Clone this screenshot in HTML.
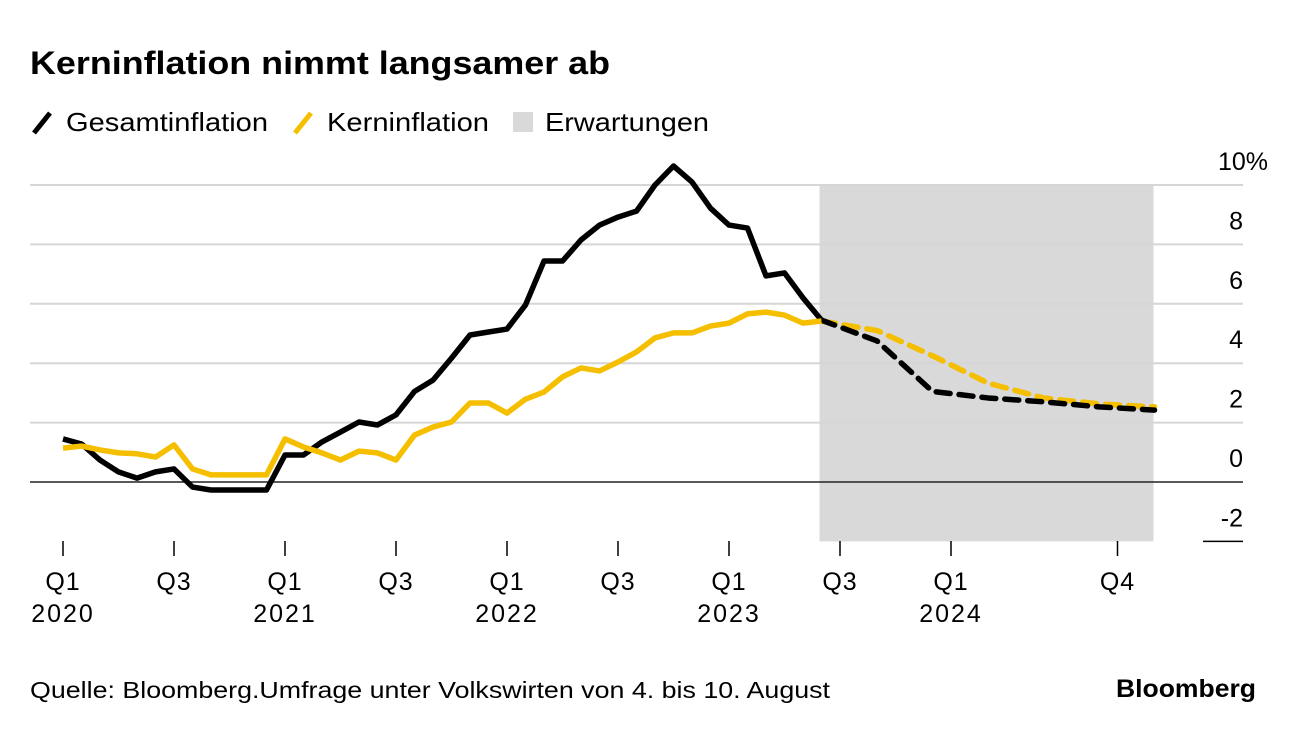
<!DOCTYPE html>
<html><head><meta charset="utf-8"><style>
body{margin:0;background:#fff;font-family:"Liberation Sans",sans-serif;}
svg text{font-family:"Liberation Sans",sans-serif;}
</style></head><body>
<svg id="c" width="1296" height="732" xmlns="http://www.w3.org/2000/svg">
<text x="30" y="74" font-size="32" font-weight="bold" fill="#000" textLength="580" lengthAdjust="spacingAndGlyphs">Kerninflation nimmt langsamer ab</text>
<g>
<line x1="34" y1="133" x2="50" y2="113" stroke="#000" stroke-width="5"/>
<text x="66" y="131" font-size="26" textLength="202" lengthAdjust="spacingAndGlyphs">Gesamtinflation</text>
<line x1="295" y1="133" x2="311" y2="113" stroke="#f5bf00" stroke-width="5"/>
<text x="327" y="131" font-size="26" textLength="162" lengthAdjust="spacingAndGlyphs">Kerninflation</text>
<rect x="513" y="112" width="20" height="20" fill="#d9d9d9"/>
<text x="545" y="131" font-size="26" textLength="164" lengthAdjust="spacingAndGlyphs">Erwartungen</text>
</g>
<g id="plot"></g>
<text x="30" y="698" font-size="23" fill="#000" textLength="800" lengthAdjust="spacingAndGlyphs">Quelle: Bloomberg.Umfrage unter Volkswirten von 4. bis 10. August</text>
<text x="1116" y="697" font-size="25" font-weight="bold" textLength="140" lengthAdjust="spacingAndGlyphs">Bloomberg</text>
</svg>
<script>
const gesamt=[1.45,1.28,0.74,0.34,0.13,0.34,0.44,-0.17,-0.27,-0.27,-0.27,-0.27,0.91,0.91,1.35,1.68,2.02,1.92,2.26,3.05,3.43,4.17,4.95,5.05,5.15,5.96,7.44,7.44,8.15,8.65,8.92,9.12,10.0,10.64,10.1,9.22,8.65,8.55,6.94,7.04,6.2,5.45];
const kern=[1.14,1.21,1.08,0.98,0.95,0.84,1.25,0.44,0.24,0.24,0.24,0.24,1.45,1.18,0.98,0.74,1.04,0.98,0.74,1.58,1.85,2.02,2.66,2.66,2.32,2.79,3.03,3.54,3.84,3.74,4.04,4.38,4.85,5.02,5.02,5.25,5.35,5.66,5.72,5.62,5.35,5.42];
const fcMonths=[41,44,47,50,53,56,59];
const gesamtFc=[5.45,4.75,3.05,2.83,2.7,2.53,2.42];
const kernFc=[5.42,5.1,4.25,3.33,2.83,2.63,2.53];
const yTicks=[-2,0,2,4,6,8,10];
const xTickMonths=[0,6,12,18,24,30,36,42,48,57];
const xTickQ=["Q1","Q3","Q1","Q3","Q1","Q3","Q1","Q3","Q1","Q4"];
const xTickYear=["2020","","2021","","2022","","2023","","2024",""];
const forecastSpan=[41,59];
const X=m=>63+m*18.5, Y=v=>482-v*29.7;
const NS="http://www.w3.org/2000/svg", g=document.getElementById('plot');
function el(t,a){const e=document.createElementNS(NS,t);for(const k in a)e.setAttribute(k,a[k]);g.appendChild(e);return e;}
let r=el('rect',{x:X(forecastSpan[0])-2,y:Y(10),width:X(forecastSpan[1])-X(forecastSpan[0])+1,height:Y(-2)-Y(10),fill:'#d9d9d9'});


yTicks.forEach(v=>{
 if(v>0){let l=el('line',{x1:30,x2:1243,y1:Y(v),y2:Y(v),stroke:'#d6d6d6','stroke-width':2});
 
 }
 let t=el('text',{x:1243,y:Y(v)-15,'font-size':25,'text-anchor':'end',fill:'#000'});
 t.textContent=String(v);
 if(v===10){t.setAttribute('x',1268);t.textContent='10%';}
 
 
});
let z=el('line',{x1:30,x2:1243,y1:Y(0),y2:Y(0),stroke:'#222','stroke-width':1.5});


let b=el('line',{x1:1203,x2:1243,y1:Y(-2),y2:Y(-2),stroke:'#000','stroke-width':1.5});


xTickMonths.forEach((m,i)=>{
 let l=el('line',{x1:X(m),x2:X(m),y1:541,y2:556,stroke:'#000','stroke-width':1.5});
 
 
 let t=el('text',{x:X(m),y:590,'font-size':25,'text-anchor':'middle','letter-spacing':1});t.textContent=xTickQ[i];
 
 
 if(xTickYear[i]){let y=el('text',{x:X(m),y:622,'font-size':25,'text-anchor':'middle','letter-spacing':2});y.textContent=xTickYear[i];
 
 }
});
function line(vals,months,color,dash,name){
 const p=vals.map((v,i)=>(i?'L':'M')+X(months?months[i]:i)+','+Y(v)).join('');
 const a={d:p,fill:'none',stroke:color,'stroke-width':5.5,'stroke-linejoin':'round'};
 if(dash){a['stroke-dasharray']='14 9';a['stroke-linecap']='round';}
 const e=el('path',a);
 
 
}
line(kernFc,fcMonths,'#f5bf00',true,'kerninflation-forecast-line');
line(gesamtFc,fcMonths,'#000',true,'gesamtinflation-forecast-line');
line(gesamt,null,'#000',false,'gesamtinflation-line');
line(kern,null,'#f5bf00',false,'kerninflation-line');
</script>
</body></html>
